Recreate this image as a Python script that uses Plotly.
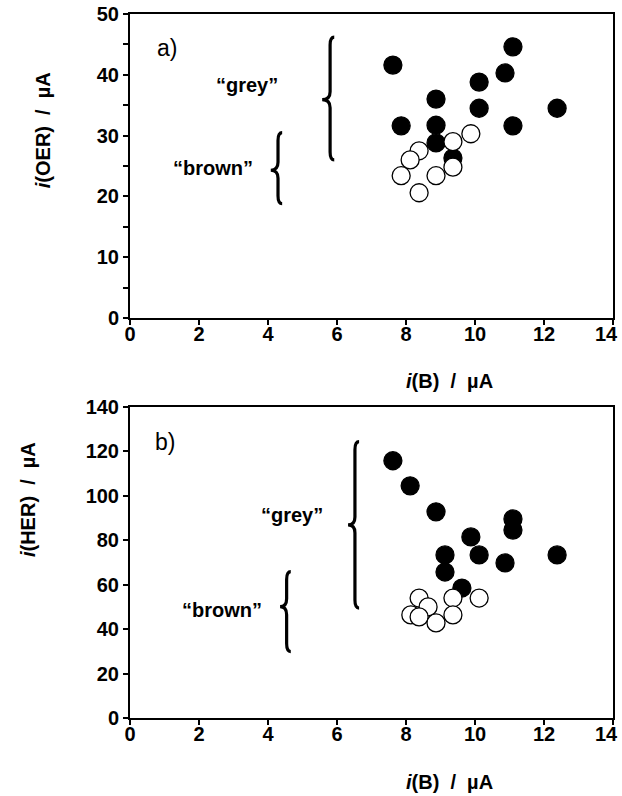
import plotly.graph_objects as go
from plotly.subplots import make_subplots

# ---- data -------------------------------------------------------------
# panel a) : i(OER) vs i(B)
oer_grey_ib = [7.62, 11.10, 10.87, 10.12, 8.87, 10.12, 12.38, 7.86, 8.87, 11.10, 8.87, 9.36]
oer_grey_i = [41.6, 44.6, 40.3, 38.8, 36.0, 34.5, 34.5, 31.6, 31.7, 31.6, 28.8, 26.3]
oer_brown_ib = [8.38, 8.12, 9.36, 9.88, 9.36, 8.87, 7.86, 8.38]
oer_brown_i = [27.5, 26.0, 29.0, 30.3, 24.8, 23.4, 23.4, 20.6]

# panel b) : i(HER) vs i(B)
her_grey_ib = [7.62, 8.12, 8.87, 11.10, 11.10, 9.88, 9.13, 10.12, 12.38, 10.87, 9.13, 9.62]
her_grey_i = [115.8, 104.5, 92.8, 89.6, 84.6, 81.5, 73.4, 73.4, 73.4, 69.8, 65.7, 58.5]
her_brown_ib = [8.38, 8.64, 8.14, 8.38, 8.87, 9.36, 9.36, 10.12]
her_brown_i = [54.0, 50.0, 46.4, 45.5, 42.8, 54.0, 46.4, 54.0]

x_ticks = [0, 2, 4, 6, 8, 10, 12, 14]
oer_ticks = [0, 10, 20, 30, 40, 50]
her_ticks = [0, 20, 40, 60, 80, 100, 120, 140]

# braces: (spine x, tip x, top y, tip y, bottom y)
oer_braces = [(5.80, 5.57, 46.2, 35.9, 26.0), (4.29, 4.08, 30.5, 24.3, 18.8)]
her_braces = [(6.52, 6.32, 124.4, 86.9, 49.5), (4.54, 4.35, 65.9, 50.1, 29.9)]

# group labels: (text, x, y)
oer_labels = [("\u201cgrey\u201d", 3.39, 38.3), ("\u201cbrown\u201d", 2.41, 24.7)]
her_labels = [("\u201cgrey\u201d", 4.70, 91.4), ("\u201cbrown\u201d", 2.67, 48.6)]

# ---- figure ---------------------------------------------------------------
FONT = "Liberation Sans, Arial, sans-serif"
fig = make_subplots(rows=2, cols=1)

def add_points(xs, ys, filled, row):
    fig.add_trace(go.Scatter(
        x=xs, y=ys, mode="markers",
        marker=dict(size=18, symbol="circle",
                    color="black" if filled else "white",
                    line=dict(color="black", width=1.3)),
        showlegend=False, hoverinfo="skip"), row=row, col=1)

add_points(oer_grey_ib, oer_grey_i, True, 1)
add_points(oer_brown_ib, oer_brown_i, False, 1)
add_points(her_grey_ib, her_grey_i, True, 2)
add_points(her_brown_ib, her_brown_i, False, 2)

def brace_path(xs, xt, yt, ym, yb, dy, w):
    return (f"M {xs + w},{yt} Q {xs},{yt} {xs},{yt - dy} "
            f"L {xs},{ym + dy} Q {xs},{ym} {xt},{ym} "
            f"Q {xs},{ym} {xs},{ym - dy} "
            f"L {xs},{yb + dy} Q {xs},{yb} {xs + w},{yb}")

for br in oer_braces:
    fig.add_shape(type="path", path=brace_path(*br, dy=1.3, w=0.12),
                  xref="x", yref="y", line=dict(color="black", width=3.2))
for br in her_braces:
    fig.add_shape(type="path", path=brace_path(*br, dy=3.6, w=0.12),
                  xref="x2", yref="y2", line=dict(color="black", width=3.2))

bold = dict(family=FONT, size=20, color="black", weight="bold")

def b(t):
    return f"<b>{t}</b>"

for t, x, y in oer_labels:
    fig.add_annotation(text=b(t), x=x, y=y, xref="x", yref="y",
                       xanchor="center", yanchor="middle",
                       showarrow=False, font=bold)
for t, x, y in her_labels:
    fig.add_annotation(text=b(t), x=x, y=y, xref="x2", yref="y2",
                       xanchor="center", yanchor="middle",
                       showarrow=False, font=bold)

plain = dict(family=FONT, size=23, color="black")
fig.add_annotation(text="a)", x=1.07, y=44.4, xref="x", yref="y",
                   xanchor="center", yanchor="middle",
                   showarrow=False, font=plain)
fig.add_annotation(text="b)", x=1.01, y=124.3, xref="x2", yref="y2",
                   xanchor="center", yanchor="middle",
                   showarrow=False, font=plain)

# axis titles
sp = "\u00a0\u00a0"
xt = b(f"<i>i</i>(B){sp}/{sp}\u00b5A")
for y in (0.4787, -0.0909):
    fig.add_annotation(text=xt, x=0.6625, y=y, xref="paper", yref="paper",
                       xanchor="center", yanchor="middle",
                       showarrow=False, font=bold)
fig.add_annotation(text=b(f"<i>i</i>(OER){sp}/{sp}\u00b5A"), x=-0.180, y=0.835,
                   xref="paper", yref="paper", textangle=-90,
                   xanchor="center", yanchor="middle",
                   showarrow=False, font=bold)
fig.add_annotation(text=b(f"<i>i</i>(HER){sp}/{sp}\u00b5A"), x=-0.211, y=0.3097,
                   xref="paper", yref="paper", textangle=-90,
                   xanchor="center", yanchor="middle",
                   showarrow=False, font=bold)

axis_common = dict(showgrid=False, zeroline=False, showline=True,
                   linecolor="black", linewidth=2, mirror=True,
                   ticks="outside", ticklen=5, tickwidth=1.5, tickcolor="black",
                   ticklabeloverflow="allow", automargin=False,
                   tickfont=dict(family=FONT, size=20, color="black", weight="bold"))

# the last x label sits at the page edge, so it is drawn as a right-anchored
# annotation instead of a centred tick label
x_ticktext = [b(v) for v in x_ticks[:-1]] + [""]
X_LABEL_DROP = 16  # px from axis line to label centre
for xr, yr in (("x", "y"), ("x2", "y2")):
    fig.add_annotation(text=b(x_ticks[-1]), x=x_ticks[-1], y=0,
                       xref=xr, yref=yr, xanchor="right", yanchor="middle",
                       xshift=7, yshift=-X_LABEL_DROP,
                       showarrow=False, font=bold)

fig.update_xaxes(range=[0, 14], tickvals=x_ticks, ticktext=x_ticktext,
                 ticklabelstandoff=-8, **axis_common)
fig.update_yaxes(range=[0, 50], tickvals=oer_ticks,
                 ticktext=[b(v) for v in oer_ticks],
                 minor=dict(dtick=5, ticks="outside", ticklen=5,
                            tickwidth=1.5, tickcolor="black"),
                 row=1, col=1, **axis_common)
fig.update_yaxes(range=[0, 140], tickvals=her_ticks,
                 ticktext=[b(v) for v in her_ticks],
                 row=2, col=1, **axis_common)

fig.update_layout(
    width=622, height=796,
    margin=dict(l=130, r=9, t=14, b=78),
    paper_bgcolor="white", plot_bgcolor="white",
    showlegend=False,
    yaxis=dict(domain=[0.5682, 1.0]),
    yaxis2=dict(domain=[0.0, 0.4418]),
)

fig.write_html("out.html")
